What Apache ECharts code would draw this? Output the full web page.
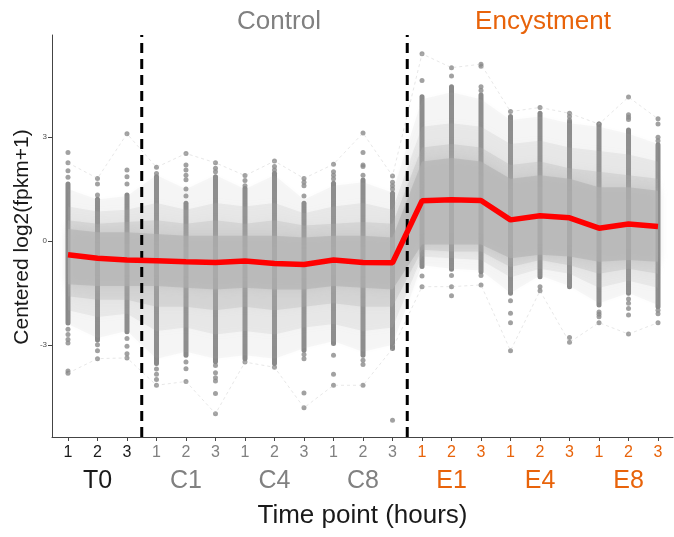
<!DOCTYPE html>
<html>
<head>
<meta charset="utf-8">
<script src="https://cdn.jsdelivr.net/npm/echarts@6/dist/echarts.min.js"></script>
<style>
  html, body { margin: 0; padding: 0; background: #ffffff; }
  #chart { width: 674px; height: 537px; }
</style>
</head>
<body>
<div id="chart"></div>
<script>
// Sample positions along the time axis: 7 time points x 3 replicates
const timePoints = [1, 2, 3, 4, 5, 6, 7, 8, 9, 10, 11, 12, 13, 14, 15, 16, 17, 18, 19, 20, 21];
const replicateLabels = ['1', '2', '3', '1', '2', '3', '1', '2', '3', '1', '2', '3', '1', '2', '3', '1', '2', '3', '1', '2', '3'];
const groupNames = ['T0', 'C1', 'C4', 'C8', 'E1', 'E4', 'E8'];
const groupCenters = [2, 5, 8, 11, 14, 17, 20];
const yTicks = [-3, 0, 3];
const phaseDividers = [3.5, 12.5];

// Median centered expression per sample
const medianValues = [-0.40, -0.50, -0.55, -0.57, -0.60, -0.62, -0.58, -0.65, -0.68, -0.55, -0.62, -0.63,
                      1.16, 1.19, 1.17, 0.61, 0.73, 0.67, 0.37, 0.49, 0.42];

// Dense stretch of per-gene points at each sample
const pointColumnLow = [-2.37, -2.86, -2.62, -3.54, -3.30, -3.49, -3.40, -3.54, -3.16, -2.96, -3.30, -3.11,
                        -0.74, -0.82, -0.89, -1.51, -1.03, -1.32, -1.85, -1.51, -1.90];
const pointColumnHigh = [1.65, 1.21, 1.33, 1.86, 1.09, 1.86, 1.52, 1.96, 1.09, 1.67, 1.76, 1.38,
                         4.17, 4.46, 4.22, 3.60, 3.69, 3.45, 3.38, 3.21, 2.78];

// Isolated extreme genes at each sample
const extremePoints = [
  [2.56, 2.26, 2.03, 1.84, -2.55, -2.70, -2.85, -2.95, -3.76, -3.82],
  [1.81, 1.65, 1.33, -3.00, -3.17, -3.40],
  [3.10, 2.05, 1.86, 1.65, -2.82, -3.04, -3.26, -3.38],
  [2.13, 1.95, -3.70, -3.85, -4.00, -4.17],
  [2.53, 2.20, 2.05, 1.90, 1.77, 1.50, 1.30, -3.50, -3.69, -4.06],
  [2.26, 2.10, 2.00, -3.60, -3.81, -3.95, -4.05, -4.41, -4.99],
  [1.89, 1.75, 1.60, -3.50],
  [2.31, 2.15, 2.05, -3.65],
  [1.81, 1.70, 1.60, 1.30, -3.28, -3.40, -4.39, -4.82],
  [2.22, 2.00, 1.90, 1.80, -3.30, -3.85, -4.17],
  [3.12, 2.56, 2.20, 2.15, 1.90, -3.45, -3.57, -4.17],
  [1.88, 1.70, 1.60, 1.50, -5.18],
  [5.41, 4.64, -1.01, -1.32],
  [5.01, 4.77, -1.00, -1.32, -1.58],
  [5.11, 5.05, 4.46, 4.35, -1.00, -1.27],
  [3.74, -1.73, -2.09, -2.36, -3.17],
  [3.86, -1.32, -1.44],
  [3.69, 3.60, 3.50, -2.79, -2.93],
  [3.38, -2.05, -2.12, -2.19, -2.36],
  [4.16, 3.65, 3.58, 3.51, -1.68, -1.80, -1.95, -2.14, -2.69],
  [3.53, 3.38, 3.00, 2.90, -2.00, -2.10, -2.36]
];

// Sparse profiles of the most extreme genes
const upperExtremeProfile = [2.26, 1.81, 3.10, 2.13, 2.53, 2.26, 1.89, 2.31, 1.81, 2.22, 3.12, 1.88,
                             5.41, 5.01, 5.11, 3.74, 3.86, 3.69, 3.38, 4.16, 3.53];
const lowerExtremeProfile = [-3.82, -3.40, -3.38, -4.17, -4.06, -4.99, -3.50, -3.65, -4.82, -4.17, -4.17, -3.11,
                             -1.32, -1.32, -1.27, -3.17, -1.44, -2.93, -2.36, -2.69, -2.36];

// Envelopes of the gene profile cloud, from the sparse fringe to the dense core
const fringeHigh = [1.5, 1.2, 1.3, 1.9, 1.5, 1.9, 1.5, 1.9, 1.2, 1.6, 1.7, 1.4, 4.1, 4.3, 4.1, 3.5, 3.6, 3.4, 3.3, 3.1, 2.8];
const fringeLow = [-2.4, -2.8, -2.6, -3.4, -3.2, -3.4, -3.3, -3.4, -3.1, -2.9, -3.2, -3.0, -0.7, -0.8, -0.85, -1.5, -1.0, -1.3, -1.8, -1.5, -1.85];
const outerHigh = [1.0, 0.85, 0.9, 1.1, 0.9, 1.1, 1.0, 1.1, 0.8, 1.0, 1.1, 0.9, 3.3, 3.4, 3.3, 2.8, 2.9, 2.7, 2.6, 2.5, 2.3];
const outerLow = [-2.0, -2.2, -2.1, -2.6, -2.5, -2.7, -2.6, -2.7, -2.5, -2.4, -2.6, -2.5, -0.45, -0.5, -0.55, -1.05, -0.8, -0.95, -1.35, -1.15, -1.35];
const innerHigh = [0.6, 0.5, 0.55, 0.6, 0.5, 0.6, 0.5, 0.6, 0.45, 0.5, 0.55, 0.5, 2.7, 2.8, 2.7, 2.2, 2.3, 2.1, 2.0, 1.9, 1.8];
const innerLow = [-1.6, -1.7, -1.7, -1.9, -1.9, -2.0, -1.9, -2.0, -1.9, -1.8, -1.9, -1.9, -0.25, -0.3, -0.3, -0.75, -0.55, -0.7, -0.95, -0.8, -0.95];
const coreHigh = [0.35, 0.25, 0.25, 0.2, 0.15, 0.15, 0.15, 0.15, 0.1, 0.15, 0.15, 0.1, 2.3, 2.4, 2.3, 1.8, 1.9, 1.8, 1.55, 1.55, 1.45];
const coreLow = [-1.25, -1.3, -1.3, -1.3, -1.35, -1.4, -1.35, -1.4, -1.4, -1.3, -1.35, -1.4, -0.1, -0.1, -0.1, -0.5, -0.4, -0.45, -0.6, -0.55, -0.6];

const FONT = "'Liberation Sans', Arial, Helvetica, sans-serif";
const COL_T0 = '#1a1a1a';
const COL_CTRL = '#808080';
const COL_ENC = '#e8630a';
const X_MIN = 0.458, X_MAX = 21.508;
const Y_MIN = -5.665, Y_MAX = 5.954;

function phaseKey(pos) {
  if (pos <= 3) return 't';
  if (pos <= 12) return 'c';
  return 'e';
}

// One translucent layer of the profile cloud, with softened edges
function bandSeries(high, low, alpha) {
  const fill = 'rgba(176,176,176,' + alpha + ')';
  return {
    type: 'custom',
    silent: true,
    z: 3,
    data: [[timePoints[0], high[0]]],
    renderItem: function (params, api) {
      const pts = [];
      for (let i = 0; i < timePoints.length; i++) pts.push(api.coord([timePoints[i], high[i]]));
      for (let i = timePoints.length - 1; i >= 0; i--) pts.push(api.coord([timePoints[i], low[i]]));
      return { type: 'polygon', shape: { points: pts },
               style: { fill: fill, shadowBlur: 10, shadowColor: fill } };
    }
  };
}

function extremeProfileSeries(values) {
  return {
    type: 'line', silent: true, z: 2,
    data: timePoints.map(function (t, i) { return [t, values[i]]; }),
    showSymbol: false, symbol: 'none',
    lineStyle: { color: 'rgba(195,195,195,0.5)', width: 0.8, type: [3, 3] }
  };
}

const extremeData = [];
extremePoints.forEach(function (vals, i) {
  vals.forEach(function (v) { extremeData.push([timePoints[i], v]); });
});

const chart = echarts.init(document.getElementById('chart'), null, { renderer: 'canvas' });
chart.setOption({
  animation: false,
  backgroundColor: '#ffffff',
  grid: { left: 52, right: 1, top: 35, bottom: 100, containLabel: false, outerBoundsMode: 'none' },
  graphic: [
    { type: 'text', x: 279, y: 22, style: { text: 'Control', fill: COL_CTRL, font: '26px ' + FONT, align: 'center', verticalAlign: 'middle' } },
    { type: 'text', x: 543, y: 22, style: { text: 'Encystment', fill: COL_ENC, font: '26px ' + FONT, align: 'center', verticalAlign: 'middle' } },
    { type: 'text', x: 22, y: 237, rotation: Math.PI / 2,
      style: { text: 'Centered log2(fpkm+1)', fill: '#1a1a1a', font: '21px ' + FONT, align: 'center', verticalAlign: 'middle' } }
  ],
  xAxis: [
    {
      type: 'value', min: X_MIN, max: X_MAX,
      name: 'Time point (hours)', nameLocation: 'middle', nameGap: 66,
      nameTextStyle: { fontFamily: FONT, fontSize: 26, color: '#1a1a1a' },
      axisLine: { show: true, onZero: false, lineStyle: { color: '#444', width: 1 } },
      axisTick: { show: true, length: 4, customValues: timePoints, lineStyle: { color: '#444' } },
      splitLine: { show: false },
      axisLabel: {
        customValues: timePoints, margin: 8,
        formatter: function (v) { const i = Math.round(v) - 1; return '{' + phaseKey(v) + '|' + replicateLabels[i] + '}'; },
        rich: {
          t: { color: COL_T0, fontSize: 16, fontFamily: FONT },
          c: { color: COL_CTRL, fontSize: 16, fontFamily: FONT },
          e: { color: COL_ENC, fontSize: 16, fontFamily: FONT }
        }
      }
    },
    {
      type: 'value', min: X_MIN, max: X_MAX, position: 'bottom',
      axisLine: { show: false, onZero: false }, axisTick: { show: false }, splitLine: { show: false },
      axisLabel: {
        customValues: groupCenters, margin: 32,
        formatter: function (v) { const i = groupCenters.indexOf(Math.round(v)); return '{' + phaseKey(v) + '|' + groupNames[i] + '}'; },
        rich: {
          t: { color: COL_T0, fontSize: 25, fontFamily: FONT },
          c: { color: COL_CTRL, fontSize: 25, fontFamily: FONT },
          e: { color: COL_ENC, fontSize: 25, fontFamily: FONT }
        }
      }
    }
  ],
  yAxis: {
    type: 'value', min: Y_MIN, max: Y_MAX,
    axisLine: { show: true, onZero: false, lineStyle: { color: '#444', width: 1 } },
    axisTick: { show: true, length: 4, customValues: yTicks, lineStyle: { color: '#444' } },
    axisLabel: { customValues: yTicks, fontSize: 8, fontFamily: FONT, color: '#4d4d4d', margin: 5 },
    splitLine: { show: false }
  },
  series: [
    {
      // dense runs of gene points
      type: 'custom', silent: true, z: 1,
      data: timePoints.map(function (t, i) { return [t, pointColumnLow[i], pointColumnHigh[i]]; }),
      encode: { x: 0, y: [1, 2] },
      renderItem: function (params, api) {
        const a = api.coord([api.value(0), api.value(1)]);
        const b = api.coord([api.value(0), api.value(2)]);
        return { type: 'line', shape: { x1: a[0], y1: a[1], x2: b[0], y2: b[1] },
                 style: { stroke: '#8a8a8a', lineWidth: 5, lineCap: 'round' } };
      }
    },
    {
      type: 'scatter', silent: true, z: 1,
      data: extremeData, symbol: 'circle', symbolSize: 5,
      itemStyle: { color: '#8a8a8a' }
    },
    extremeProfileSeries(upperExtremeProfile),
    extremeProfileSeries(lowerExtremeProfile),
    bandSeries(fringeHigh, fringeLow, 0.114),
    bandSeries(outerHigh, outerLow, 0.177),
    bandSeries(innerHigh, innerLow, 0.275),
    bandSeries(coreHigh, coreLow, 0.576),
    {
      // dividers between baseline, control and encystment phases
      type: 'custom', silent: true, z: 5,
      data: phaseDividers.map(function (d) { return [d]; }),
      encode: { x: 0 },
      renderItem: function (params, api) {
        const a = api.coord([api.value(0), Y_MIN]);
        const b = api.coord([api.value(0), Y_MAX]);
        return { type: 'line', shape: { x1: a[0], y1: a[1], x2: b[0], y2: b[1] },
                 style: { stroke: '#000000', lineWidth: 3, lineDash: [10, 6] } };
      }
    },
    {
      type: 'line', silent: true, z: 6,
      data: timePoints.map(function (t, i) { return [t, medianValues[i]]; }),
      showSymbol: false, symbol: 'none',
      lineStyle: { color: '#ff0000', width: 5.5 }
    }
  ]
});
</script>
</body>
</html>
